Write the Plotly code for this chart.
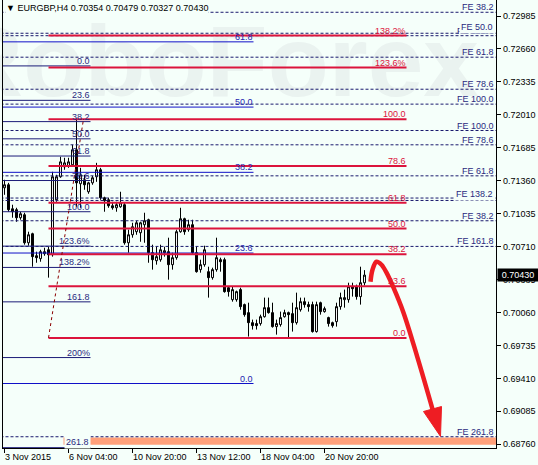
import plotly.graph_objects as go

# ---------------- data ----------------
bar_index = list(range(91))
x_tick_bars = [0, 16, 32, 48, 64, 80]
x_tick_text = ["3 Nov 2015", "6 Nov 04:00", "10 Nov 20:00", "13 Nov 12:00", "18 Nov 04:00", "20 Nov 20:00"]
y_tick_vals = [0.72985, 0.72660, 0.72335, 0.72010, 0.71685, 0.71360, 0.71035, 0.70710,
               0.70385, 0.70060, 0.69735, 0.69410, 0.69085, 0.68760]

opens = [0.71291, 0.71321, 0.71084, 0.71075, 0.70996, 0.71025, 0.70749, 0.70838, 0.70621, 0.70592,
         0.70641, 0.70680, 0.70631, 0.71173, 0.71400, 0.71498, 0.71508, 0.71518, 0.71666, 0.71331,
         0.71370, 0.71252, 0.71340, 0.71400, 0.71469, 0.71193, 0.71173, 0.71114, 0.71094, 0.71104,
         0.71124, 0.70749, 0.70828, 0.70858, 0.70848, 0.70927, 0.70976, 0.70651, 0.70572, 0.70582,
         0.70651, 0.70661, 0.70533, 0.70602, 0.70858, 0.70986, 0.70878, 0.70927, 0.70651, 0.70484,
         0.70533, 0.70464, 0.70405, 0.70484, 0.70582, 0.70582, 0.70306, 0.70188, 0.70188, 0.70287,
         0.70139, 0.70060, 0.69961, 0.69952, 0.69952, 0.70020, 0.70109, 0.70060, 0.69922, 0.69942,
         0.70020, 0.70060, 0.70050, 0.69961, 0.70089, 0.70168, 0.70139, 0.70139, 0.69873, 0.70158,
         0.70070, 0.70011, 0.69961, 0.69971, 0.70119, 0.70188, 0.70188, 0.70316, 0.70316, 0.70218,
         0.70354]
highs = [0.71370, 0.71340, 0.71124, 0.71094, 0.71055, 0.71045, 0.70858, 0.70848, 0.70661, 0.70680,
         0.70700, 0.70710, 0.71449, 0.71419, 0.71597, 0.71587, 0.71587, 0.71715, 0.71961, 0.71488,
         0.71419, 0.71350, 0.71409, 0.71537, 0.71488, 0.71203, 0.71193, 0.71153, 0.71153, 0.71252,
         0.71143, 0.70878, 0.70946, 0.70966, 0.70956, 0.71045, 0.70986, 0.70730, 0.70710, 0.70730,
         0.70710, 0.70799, 0.70651, 0.70878, 0.71094, 0.70996, 0.70976, 0.70976, 0.70710, 0.70582,
         0.70720, 0.70513, 0.70503, 0.70799, 0.70602, 0.70602, 0.70316, 0.70316, 0.70277, 0.70306,
         0.70149, 0.70158, 0.69991, 0.69991, 0.70040, 0.70208, 0.70208, 0.70158, 0.69991, 0.70070,
         0.70089, 0.70070, 0.70158, 0.70257, 0.70208, 0.70208, 0.70168, 0.70168, 0.70168, 0.70168,
         0.70119, 0.70020, 0.69971, 0.70158, 0.70257, 0.70287, 0.70355, 0.70355, 0.70336, 0.70513,
         0.70479]
lows = [0.71222, 0.71055, 0.70996, 0.70956, 0.70976, 0.70730, 0.70720, 0.70513, 0.70552, 0.70562,
        0.70621, 0.70405, 0.70612, 0.71153, 0.71390, 0.71469, 0.71488, 0.71498, 0.71104, 0.71094,
        0.71272, 0.71232, 0.71321, 0.71350, 0.71173, 0.71055, 0.71094, 0.71075, 0.71055, 0.71094,
        0.70730, 0.70651, 0.70799, 0.70828, 0.70759, 0.70749, 0.70552, 0.70484, 0.70533, 0.70562,
        0.70612, 0.70385, 0.70484, 0.70582, 0.70848, 0.70828, 0.70858, 0.70631, 0.70454, 0.70454,
        0.70513, 0.70208, 0.70385, 0.70464, 0.70464, 0.70257, 0.70218, 0.70168, 0.70168, 0.70089,
        0.70020, 0.69824, 0.69893, 0.69893, 0.69932, 0.70011, 0.70050, 0.69912, 0.69843, 0.69922,
        0.70011, 0.69814, 0.69873, 0.69942, 0.70070, 0.70109, 0.70070, 0.69863, 0.69863, 0.70040,
        0.70060, 0.69922, 0.69912, 0.69922, 0.70089, 0.70109, 0.70158, 0.70218, 0.70188, 0.70139,
        0.70327]
closes = [0.71321, 0.71075, 0.71055, 0.70996, 0.71035, 0.70749, 0.70828, 0.70612, 0.70602, 0.70661,
          0.70661, 0.70631, 0.71400, 0.71400, 0.71547, 0.71537, 0.71547, 0.71666, 0.71340, 0.71419,
          0.71321, 0.71340, 0.71390, 0.71469, 0.71193, 0.71163, 0.71114, 0.71094, 0.71124, 0.71143,
          0.70749, 0.70828, 0.70907, 0.70946, 0.70946, 0.70966, 0.70651, 0.70582, 0.70612, 0.70680,
          0.70671, 0.70533, 0.70602, 0.70858, 0.70986, 0.70858, 0.70927, 0.70651, 0.70464, 0.70533,
          0.70680, 0.70405, 0.70484, 0.70602, 0.70562, 0.70267, 0.70267, 0.70287, 0.70267, 0.70119,
          0.70040, 0.69961, 0.69932, 0.69932, 0.70020, 0.70109, 0.70060, 0.69922, 0.69952, 0.70011,
          0.70060, 0.70040, 0.69961, 0.70109, 0.70168, 0.70139, 0.70119, 0.69873, 0.70139, 0.70070,
          0.70099, 0.69952, 0.69932, 0.70119, 0.70208, 0.70208, 0.70316, 0.70296, 0.70218, 0.70355,
          0.70430]

# Fibonacci expansion (dashed, full width) levels and labels, in drawing order
fe_prices = [0.73022, 0.72791, 0.72815, 0.72579, 0.72263, 0.72116, 0.71856, 0.71715,
             0.71409, 0.71190, 0.71166, 0.70966, 0.70713, 0.68836]
fe_labels = ["FE 38.2", "FE 161.8", "FE 50.0", "FE 61.8", "FE 78.6", "FE 100.0", "FE 100.0", "FE 78.6",
             "FE 61.8", "FE 50.0", "FE 138.2", "FE 38.2", "FE 161.8", "FE 261.8"]
fe_covering = [False, False, True, False, False, False, False, False,
               False, False, True, False, False, False]

# short blue retracement (left)
blue1_p0, blue1_p100 = 0.72493, 0.71055
blue1_levels = [0, 23.6, 38.2, 50, 61.8, 78.6, 100, 123.6, 138.2, 161.8, 200, 261.8]
blue1_labels = ["0.0", "23.6", "38.2", "50.0", "61.8", "78.6", "100.0", "123.6%", "138.2%", "161.8", "200%", "261.8"]
blue1_x = [-1, 21.5]

# long blue retracement
blue2_p0, blue2_p100 = 0.69361, 0.74813
blue2_levels = [0, 23.6, 38.2, 50, 61.8]
blue2_labels = ["0.0", "23.6", "38.2", "50.0", "61.8"]
blue2_x = [-1, 62.25]

# red retracement / expansion
red_p0, red_p100 = 0.69811, 0.71968
red_levels = [0, 23.6, 38.2, 50, 61.8, 78.6, 100, 123.6, 138.2]
red_labels = ["0.0", "23.6", "38.2", "50.0", "61.8", "78.6", "100.0", "123.6%", "138.2%"]
red_x = [11, 100.5]
red_trend_x = [11, 19.75]
red_trend_y = [red_p0, red_p100]

# target zone rectangle
zone_x = [14.75, 124]
zone_y = [0.68757, 0.68829]

# forecast arrow
arrow_x = [91.5, 92.0, 93.0, 94.25, 95.5, 97.25, 99.75, 103.25, 107.25]
arrow_y = [0.70365, 0.70483, 0.70562, 0.70532, 0.70454, 0.70306, 0.70060, 0.69617, 0.69075]
head_x = [104.75, 109.25, 109.0]
head_y = [0.69085, 0.69134, 0.68839]

last_price = 0.70430
header = "▼ EURGBP,H4 0.70354 0.70479 0.70327 0.70430"

# ---------------- styles ----------------
BG = "#F5FFFA"
FONT = "Liberation Sans"
NAVY = "#1C1C78"
BLUE2 = "#1010C8"
RED = "#DC143C"
FS = 9

fig = go.Figure()

fig.add_trace(go.Candlestick(
    x=bar_index, open=opens, high=highs, low=lows, close=closes,
    increasing=dict(line=dict(color="black", width=1), fillcolor="white"),
    decreasing=dict(line=dict(color="black", width=1), fillcolor="black"),
    whiskerwidth=0, showlegend=False, hoverinfo="skip"))


def level_trace(xr, prices, color, width, dash=None):
    xs, ys = [], []
    for p in prices:
        xs += [xr[0], xr[1], None]
        ys += [p, p, None]
    return go.Scatter(x=xs, y=ys, mode="lines", showlegend=False, hoverinfo="skip",
                      line=dict(color=color, width=width, dash=dash))


blue1_prices = [blue1_p0 + (blue1_p100 - blue1_p0) * l / 100 for l in blue1_levels]
blue2_prices = [blue2_p0 + (blue2_p100 - blue2_p0) * l / 100 for l in blue2_levels]
red_prices = [red_p0 + (red_p100 - red_p0) * l / 100 for l in red_levels]

fig.add_trace(level_trace([-1, 124], fe_prices, "#1A1A6E", 1, "3px,2px"))
fig.add_trace(level_trace(blue1_x, blue1_prices, NAVY, 1))
fig.add_trace(level_trace(blue2_x, blue2_prices, BLUE2, 1))
fig.add_trace(level_trace(red_x, red_prices, RED, 2))
fig.add_trace(go.Scatter(x=red_trend_x, y=red_trend_y, mode="lines", showlegend=False, hoverinfo="skip",
                         line=dict(color="#8B0000", width=1, dash="3px,3px")))

# arrow
fig.add_trace(go.Scatter(x=arrow_x, y=arrow_y, mode="lines", showlegend=False, hoverinfo="skip",
                         line=dict(color="#EE1D23", width=4.5, shape="spline")))
fig.add_trace(go.Scatter(x=head_x + [head_x[0]], y=head_y + [head_y[0]], mode="lines", fill="toself",
                         fillcolor="#EE1D23", line=dict(color="#EE1D23", width=1),
                         showlegend=False, hoverinfo="skip"))

shapes = [
    dict(type="rect", xref="x", yref="y", x0=zone_x[0], x1=zone_x[1], y0=zone_y[0], y1=zone_y[1],
         fillcolor="#FFA07A", line=dict(width=0), layer="below"),
    dict(type="rect", xref="paper", yref="paper", x0=0.0, x1=0.86, y0=0.78, y1=0.99,
         line=dict(width=0), fillcolor="rgba(0,0,0,0)", layer="below",
         label=dict(text="<b>RoboForex</b>", font=dict(size=100, color="#EAF3F0",
                                                       family="Liberation Sans Narrow, " + FONT),
                    textposition="middle center")),
]

ann = []


def label(x, y, text, color, xref="x", bg=None):
    d = dict(x=x, y=y, xref=xref, yref="y", text=text, showarrow=False, xanchor="right",
             yanchor="bottom", yshift=-1, font=dict(family=FONT, size=FS, color=color), borderpad=0)
    if bg:
        d["bgcolor"] = bg
        d["borderpad"] = 1
    return d


for p, t, c in zip(fe_prices, fe_labels, fe_covering):
    ann.append(label(1, p, t, "#2A2A80", xref="paper", bg=BG if c else None))
    ann[-1]["xshift"] = -1
for p, t in zip(blue1_prices, blue1_labels):
    ann.append(label(blue1_x[1], p, t, "#2A2A80", bg=BG if t == "261.8" else None))
for p, t in zip(blue2_prices, blue2_labels):
    ann.append(label(blue2_x[1], p, t, "#2424B0"))
for p, t in zip(red_prices, red_labels):
    ann.append(label(red_x[1], p, t, RED))

# x-axis labels (left aligned at tick, MT4 style)
for b, t in zip(x_tick_bars, x_tick_text):
    ann.append(dict(x=b, y=0, xref="x", yref="paper", text=t, showarrow=False, xanchor="left",
                    yanchor="top", xshift=-2, yshift=-2, font=dict(family=FONT, size=FS, color="black")))

# y-axis labels (left aligned after tick, MT4 style)
for v in y_tick_vals:
    ann.append(dict(x=1, y=v, xref="paper", yref="y", text=f"{v:.5f}", showarrow=False, xanchor="left",
                    yanchor="middle", xshift=5, font=dict(family=FONT, size=FS, color="black")))

# header
ann.append(dict(x=0, y=1, xref="paper", yref="paper", text=header, showarrow=False, xanchor="left",
                yanchor="top", xshift=2, yshift=-2, bgcolor=BG, borderpad=0,
                font=dict(family=FONT, size=FS, color="black")))

# current price box
ann.append(dict(x=1, y=last_price, xref="paper", yref="y", text=f"{last_price:.5f}", showarrow=False,
                xanchor="left", yanchor="middle", xshift=1, width=40, height=12, bgcolor="black",
                borderpad=0, font=dict(family=FONT, size=FS, color="white")))

fig.update_layout(
    width=538, height=465,
    margin=dict(l=3, r=42, t=0, b=17),
    paper_bgcolor=BG, plot_bgcolor=BG,
    showlegend=False,
    shapes=shapes, annotations=ann,
    xaxis=dict(range=[-0.375, 122.875], showgrid=False, zeroline=False, showline=True, linecolor="black",
               linewidth=1, ticks="outside", ticklen=4, tickcolor="black", tickvals=x_tick_bars,
               showticklabels=False, rangeslider=dict(visible=False), fixedrange=True),
    yaxis=dict(range=[0.68725, 0.73143], side="right", showgrid=False, zeroline=False, showline=True,
               mirror=True, linecolor="black", linewidth=1, ticks="outside", ticklen=4, tickcolor="black",
               tickvals=y_tick_vals, showticklabels=False, fixedrange=True),
)

fig.write_html("out.html", config={"displayModeBar": False, "staticPlot": True},
               post_script="document.body.style.margin='0';document.body.style.overflow='hidden';")
